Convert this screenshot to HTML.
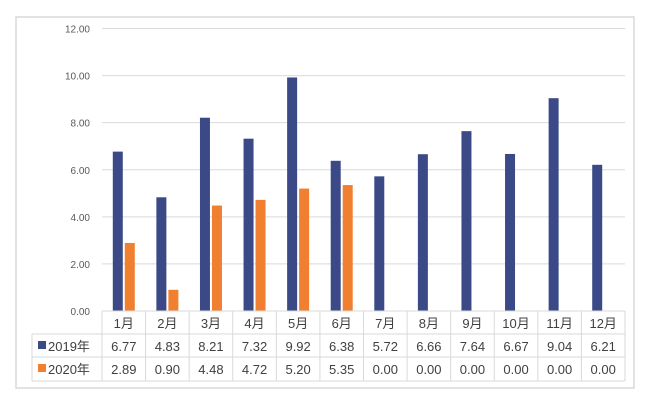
<!DOCTYPE html>
<html><head><meta charset="utf-8"><style>
body{margin:0;background:#fff;width:650px;height:400px;overflow:hidden;font-family:"Liberation Sans","Noto Sans CJK SC",sans-serif}
</style></head><body>
<svg width="650" height="400">
<rect x="16" y="17" width="618" height="371" fill="#fff" stroke="#d9d9d9" stroke-width="1.5"/>
<g id="grid"></g><g id="bars"></g><g id="table"></g>
</svg>
<script>
const months=["1月","2月","3月","4月","5月","6月","7月","8月","9月","10月","11月","12月"];
const s2019=[6.77,4.83,8.21,7.32,9.92,6.38,5.72,6.66,7.64,6.67,9.04,6.21];
const s2020=[2.89,0.90,4.48,4.72,5.20,5.35,0,0,0,0,0,0];
const yTicks=[0,2,4,6,8,10,12];
const seriesNames=["2019年","2020年"];
const colors=["#3b4a87","#f0802f"];
const NS="http://www.w3.org/2000/svg";
const x0=102,x1=625,y0=311,yTop=28.5,yMax=12;
const cw=(x1-x0)/months.length;
const Y=v=>y0-(v/yMax)*(y0-yTop);
function mk(t,a,p){const e=document.createElementNS(NS,t);for(const k in a)e.setAttribute(k,a[k]);p.appendChild(e);return e;}
const g=document.getElementById('grid');
yTicks.forEach(v=>{
 if(v>0){const l=mk('line',{x1:x0,x2:x1,y1:Y(v),y2:Y(v),stroke:'#d9d9d9'},g);
 
 }
 const t=mk('text',{x:90,y:Y(v)+4,'text-anchor':'end','font-size':10,fill:'#595959'},g);
 
 
 t.textContent=v.toFixed(2);
});
const b=document.getElementById('bars');
[s2019,s2020].forEach((s,si)=>{s.forEach((v,i)=>{
 const cx=x0+cw*i+cw/2;const x=si==0?cx-11:cx+1;
 const r=mk('rect',{x:x,y:Y(v),width:10,height:y0-Y(v),fill:colors[si]},b);
 
 
});});
const tb=document.getElementById('table');
const rows=[311,334,357,381],lx=32;
rows.forEach((y,i)=>{mk('line',{x1:i==0?x0:lx,x2:x1,y1:y,y2:y,stroke:'#d9d9d9'},tb);});
for(let i=0;i<=months.length;i++){const x=x0+cw*i;mk('line',{x1:x,x2:x,y1:311,y2:381,stroke:'#d9d9d9'},tb);}
mk('line',{x1:lx,x2:lx,y1:334,y2:381,stroke:'#d9d9d9'},tb);
months.forEach((m,i)=>{const t=mk('text',{x:x0+cw*i+cw/2,y:328,'text-anchor':'middle','font-size':13,fill:'#404040'},tb);
 
 
 t.textContent=m;});
[s2019,s2020].forEach((s,si)=>{
 const ry=rows[si+1]+17;
 const k=mk('rect',{x:38,y:ry-10,width:8,height:8,fill:colors[si]},tb);
 
 
 const n=mk('text',{x:48,y:ry,'font-size':13,fill:'#404040'},tb);
 
 
 n.textContent=seriesNames[si];
 s.forEach((v,i)=>{const t=mk('text',{x:x0+cw*i+cw/2,y:ry,'text-anchor':'middle','font-size':13,fill:'#404040'},tb);
 
 
 t.textContent=v.toFixed(2);});
});
</script>
</body></html>
